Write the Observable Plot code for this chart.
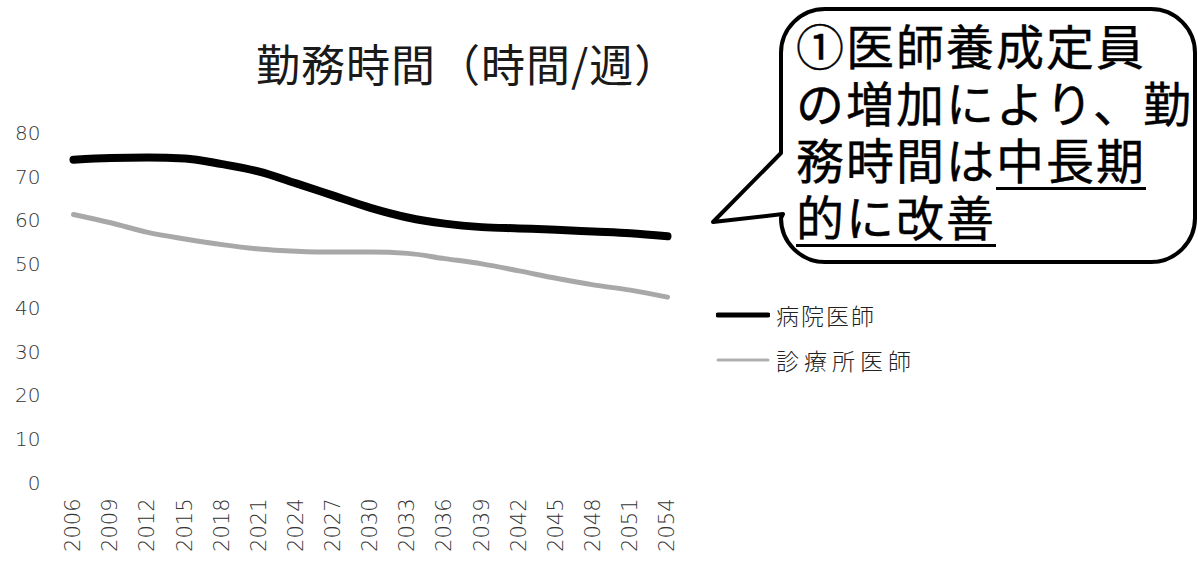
<!DOCTYPE html>
<html>
<head>
<meta charset="utf-8">
<script src="https://cdn.jsdelivr.net/npm/d3@7"></script>
<script src="https://cdn.jsdelivr.net/npm/@observablehq/plot@0.6"></script>
<style>
  html, body { margin: 0; padding: 0; background: #fff; }
  #wrap { position: relative; width: 1198px; height: 564px; overflow: hidden; background: #fff; }
  #chart { position: absolute; left: 0; top: 0; }
  #title { position: absolute; left: 256px; top: 41px; font: 400 44px "Noto Sans CJK JP", sans-serif; letter-spacing: 1px; color: #1a1a1a; white-space: nowrap; line-height: 1; }
  #bubble { position: absolute; left: 0; top: 0; pointer-events: none; }
  #callout { position: absolute; left: 796px; top: 16px; font: 400 48px "Noto Sans CJK JP", sans-serif; -webkit-text-stroke: 0.4px #000; letter-spacing: 2px; color: #000; white-space: nowrap; line-height: 57px; }
  #callout u { text-decoration: underline; text-decoration-thickness: 3px; text-underline-offset: 8px; }
  .lg { position: absolute; left: 716px; height: 30px; display: flex; align-items: center; font: 300 23px "Noto Sans CJK JP", sans-serif; color: #222; white-space: nowrap; }
  .lg svg { margin-right: 6px; }
</style>
</head>
<body>
<div id="wrap">
  <div id="chart"></div>
  <div id="title"></div>
  <svg id="bubble" width="1198" height="564"></svg>
  <div id="callout"></div>
  <div id="lg1" class="lg"></div>
  <div id="lg2" class="lg"></div>
</div>
<script>
// ---- data ----
const years = [2006, 2009, 2012, 2015, 2018, 2021, 2024, 2027, 2030, 2033, 2036, 2039, 2042, 2045, 2048, 2051, 2054];
const hospital = [74.0, 74.4, 74.5, 74.3, 73.0, 71.3, 68.6, 65.8, 63.0, 60.8, 59.4, 58.6, 58.3, 58.0, 57.6, 57.2, 56.5];
const clinic = [61.5, 59.6, 57.4, 55.9, 54.6, 53.6, 53.1, 52.9, 52.9, 52.6, 51.4, 50.2, 48.6, 46.9, 45.4, 44.2, 42.6];
const seriesNames = ["病院医師", "診療所医師"];
const yTicks = [0, 10, 20, 30, 40, 50, 60, 70, 80];
const xTicks = years;
const titleText = "勤務時間（時間/週）";
const calloutLines = ["①医師養成定員", "の増加により、勤", "務時間は", "中長期", "的に改善"];

const hospData = years.map((yr, i) => ({year: yr, value: hospital[i], series: seriesNames[0]}));
const clinData = years.map((yr, i) => ({year: yr, value: clinic[i], series: seriesNames[1]}));

const chart = Plot.plot({
  width: 1198,
  height: 564,
  marginLeft: 43,
  marginBottom: 81,
  marginTop: 133,
  marginRight: 531,
  style: {fontFamily: "DejaVu Sans", fontSize: "20px", fontWeight: 200, color: "#333", background: "transparent"},
  x: {domain: [2006, 2054], range: [73, 667]},
  y: {domain: [0, 80], range: [483, 133]},
  marks: [
    Plot.axisY(yTicks, {tickSize: 0, tickPadding: 3, fill: "#333", label: null}),
    Plot.axisX(xTicks, {tickSize: 0, tickPadding: 15, tickRotate: -90, tickFormat: d => String(d), fill: "#333", label: null, fontSize: 21, style: "letter-spacing:1px"}),
    Plot.line(clinData, {x: "year", y: "value", stroke: "#a8a8a8", strokeWidth: 5, curve: "monotone-x", strokeLinecap: "round"}),
    Plot.line(hospData, {x: "year", y: "value", stroke: "#000", strokeWidth: 8, curve: "monotone-x", strokeLinecap: "round", strokeLinejoin: "round"})
  ]
});
document.getElementById("chart").appendChild(chart);

document.getElementById("title").textContent = titleText;

// callout bubble
const bub = d3.select("#bubble");
const L = 781, R = 1195, T = 9, B = 262, r = 44;
const p = d3.path();
p.moveTo(L + r, T);
p.lineTo(R - r, T);
p.arcTo(R, T, R, T + r, r);
p.lineTo(R, B - r);
p.arcTo(R, B, R - r, B, r);
p.lineTo(L + r, B);
p.arcTo(L, B, L, B - r, r);
p.lineTo(L + 2, 214);
p.lineTo(713, 222);
p.lineTo(L, 153);
p.lineTo(L, T + r);
p.arcTo(L, T, L + r, T, r);
p.closePath();
bub.append("path").attr("d", p.toString()).attr("fill", "#fff").attr("stroke", "#000").attr("stroke-width", 4).attr("stroke-linejoin", "round");

const co = document.getElementById("callout");
co.appendChild(document.createTextNode(calloutLines[0]));
co.appendChild(document.createElement("br"));
co.appendChild(document.createTextNode(calloutLines[1]));
co.appendChild(document.createElement("br"));
co.appendChild(document.createTextNode(calloutLines[2]));
const u1 = document.createElement("u"); u1.textContent = calloutLines[3]; co.appendChild(u1);
co.appendChild(document.createElement("br"));
const u2 = document.createElement("u"); u2.textContent = calloutLines[4]; co.appendChild(u2);

// legend
function legendItem(id, top, color, width, name, spacing) {
  const el = document.getElementById(id);
  el.style.top = top + "px";
  el.style.letterSpacing = spacing + "px";
  el.innerHTML = `<svg width="54" height="10"><line x1="2" x2="52" y1="5" y2="5" stroke="${color}" stroke-width="${width}" stroke-linecap="round"/></svg>`;
  el.appendChild(document.createTextNode(name));
}
legendItem("lg1", 300, "#000", 5, seriesNames[0], 2);
legendItem("lg2", 345, "#b0b0b0", 3, seriesNames[1], 5);
</script>
</body>
</html>
